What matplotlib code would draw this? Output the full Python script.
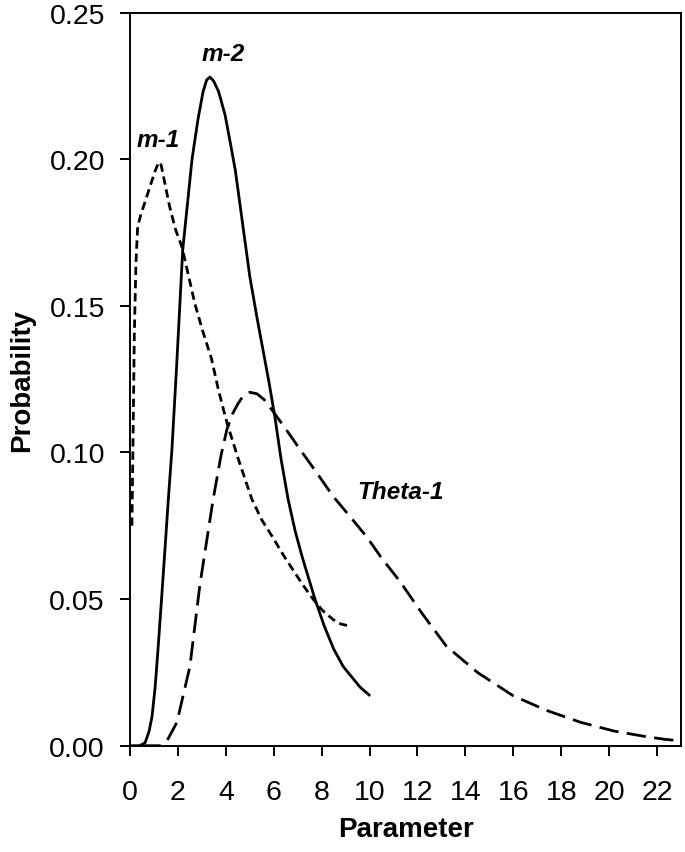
import matplotlib
matplotlib.use("Agg")
from matplotlib import pyplot as plt

plt.rcParams['font.family'] = ['Liberation Sans', 'DejaVu Sans']
plt.rcParams['lines.scale_dashes'] = False

# m-1 (short dashes)
m1_x = [0.08, 0.12, 0.18, 0.25, 0.32, 0.45, 0.65, 0.85, 1.05, 1.20, 1.30, 1.45,
        1.65, 1.90, 2.17, 2.45, 2.71, 3.05, 3.40, 3.70, 4.05, 4.55, 5.09, 5.50,
        6.00, 6.40, 6.80, 7.20, 7.64, 8.05, 8.48, 8.80, 9.06]
m1_y = [0.075, 0.100, 0.140, 0.165, 0.177, 0.181, 0.186, 0.191, 0.196, 0.199,
        0.198, 0.192, 0.184, 0.176, 0.170, 0.160, 0.1506, 0.141, 0.132, 0.121,
        0.110, 0.097, 0.084, 0.077, 0.0705, 0.065, 0.060, 0.055, 0.050, 0.046,
        0.043, 0.0415, 0.041]

# m-2 (solid)
m2_x = [0.0, 0.40, 0.63, 0.80, 0.92, 1.05, 1.17, 1.30, 1.46, 1.60, 1.75, 1.95,
        2.20, 2.59, 2.84, 3.05, 3.20, 3.34, 3.50, 3.70, 3.97, 4.20, 4.40, 4.60,
        4.80, 5.00, 5.30, 5.55, 5.80, 6.05, 6.30, 6.60, 6.90, 7.20, 7.72, 8.10,
        8.50, 8.90, 9.20, 9.60, 9.98]
m2_y = [0.0, 0.0, 0.001, 0.005, 0.010, 0.020, 0.033, 0.048, 0.067, 0.084,
        0.101, 0.130, 0.169, 0.200, 0.2137, 0.223, 0.227, 0.228, 0.2265, 0.223,
        0.215, 0.205, 0.196, 0.184, 0.172, 0.160, 0.146, 0.135, 0.124, 0.112,
        0.098, 0.084, 0.073, 0.064, 0.050, 0.041, 0.033, 0.027, 0.024, 0.020,
        0.0173]

# Theta-1 (long dashes)
th_x = [0.5, 1.30, 1.54, 1.96, 2.50, 2.92, 3.47, 3.80, 4.05, 4.30, 4.50, 4.70,
        5.00, 5.30, 5.60, 5.97, 6.50, 7.10, 7.80, 8.48, 9.20, 9.90, 10.50, 11.27,
        12.20, 13.20, 14.50, 16.00, 17.40, 18.80, 20.20, 21.60, 22.30, 23.0]
th_y = [0.0, 0.0, 0.0016, 0.008, 0.027, 0.055, 0.084, 0.099, 0.108, 0.1135,
        0.1165, 0.119, 0.1205, 0.120, 0.118, 0.114, 0.108, 0.101, 0.093, 0.085,
        0.078, 0.071, 0.064, 0.056, 0.045, 0.034, 0.025, 0.017, 0.012, 0.008,
        0.005, 0.003, 0.0022, 0.0016]

x_ticks = list(range(0, 23, 2))
y_ticks = [0.00, 0.05, 0.10, 0.15, 0.20, 0.25]

labels = [("m-1", 1.17, 0.2068), ("m-2", 3.9, 0.236), ("Theta-1", 11.3, 0.0868)]

fig = plt.figure(figsize=(6.85, 8.53), dpi=100)
ax = fig.add_axes([130 / 685, 1 - 746.7 / 853, 551 / 685, 733.2 / 853])

ax.plot(m1_x, m1_y, color='black', lw=2.0, dashes=(6, 3.5))
ax.plot(m2_x, m2_y, color='black', lw=2.0)
ax.plot(th_x, th_y, color='black', lw=2.0, dashes=(14, 6))

for txt, x, y in labels:
    ax.text(x, y, txt, fontsize=17.5, fontweight='bold', fontstyle='italic',
            ha='center', va='center')

ax.set_xlim(0, 23)
ax.set_ylim(0, 0.25)
ax.set_xticks(x_ticks)
ax.set_yticks(y_ticks)
ax.set_yticklabels([f"{v:.2f}" for v in y_ticks])

for s in ax.spines.values():
    s.set_linewidth(1.4)
ax.tick_params(axis='both', direction='out', length=7, width=1.4,
               labelsize=20.5)
ax.tick_params(axis='x', pad=17)
ax.tick_params(axis='y', pad=11)

ax.set_xlabel('Parameter', fontsize=20, fontweight='bold', labelpad=8)
ax.set_ylabel('Probability', fontsize=20, fontweight='bold', labelpad=10)

fig.savefig('out.png', dpi=100)
